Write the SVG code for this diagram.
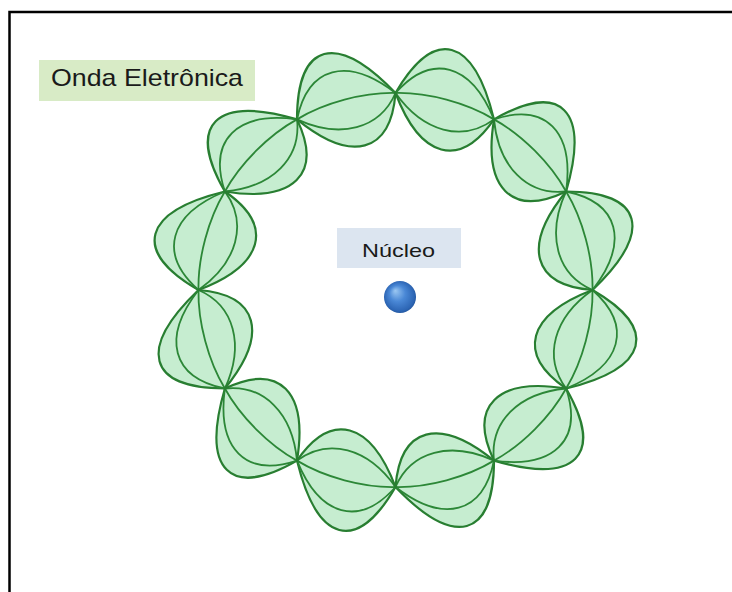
<svg xmlns="http://www.w3.org/2000/svg" width="732" height="592" viewBox="0 0 732 592">
  <style>
    .frame { fill: none; stroke: #000; stroke-width: 2.5; }
    .lobe { fill: #c6edd0; stroke: none; }
    .wave { fill: none; stroke: #2c8737; stroke-width: 1.8; stroke-linecap: round; }
    .wave.edge { stroke: #287e31; stroke-width: 2.2; }
    .label { font-family: "Liberation Sans", Arial, sans-serif; fill: #1a1a1a; }
  </style>
  <defs>
    <!-- one half-wavelength between two nodes, centred on the +x axis; nodes at ±15° on a circle of r=197 -->
    <g id="segment">
      <path class="lobe" d="M190.29,-50.99 C265.09,-30.83 265.09,9.97 190.29,50.99 C133.38,30.83 133.38,-9.97 190.29,-50.99 Z"/>
      <path class="wave edge" d="M190.29,-50.99 C265.09,-30.83 265.09,9.97 190.29,50.99"/>
      <path class="wave" d="M190.29,-50.99 C238.74,-26.66 238.74,14.14 190.29,50.99"/>
      <path class="wave" d="M190.29,-50.99 C199.24,-20.40 199.24,20.40 190.29,50.99"/>
      <path class="wave" d="M190.29,-50.99 C159.73,-14.14 159.73,26.66 190.29,50.99"/>
      <path class="wave edge" d="M190.29,-50.99 C133.38,-9.97 133.38,30.83 190.29,50.99"/>
    </g>
    <radialGradient id="ball" cx="0.5" cy="0.5" r="0.55" fx="0.35" fy="0.3">
      <stop offset="0" stop-color="#9cc8f2"/>
      <stop offset="0.45" stop-color="#4a88d6"/>
      <stop offset="0.85" stop-color="#2d66b5"/>
      <stop offset="1" stop-color="#1d4f94"/>
    </radialGradient>
  </defs>

  <rect width="732" height="592" fill="#fff"/>
  <path class="frame" d="M9.5,592 V12 H732"/>

  <!-- standing electron wave: 12 segments around the nucleus -->
  <g id="wave-ring" transform="translate(395.5,290)">
    <use href="#segment" transform="rotate(15)"/>
    <use href="#segment" transform="rotate(45)"/>
    <use href="#segment" transform="rotate(75)"/>
    <use href="#segment" transform="rotate(105)"/>
    <use href="#segment" transform="rotate(135)"/>
    <use href="#segment" transform="rotate(165)"/>
    <use href="#segment" transform="rotate(195)"/>
    <use href="#segment" transform="rotate(225)"/>
    <use href="#segment" transform="rotate(255)"/>
    <use href="#segment" transform="rotate(285)"/>
    <use href="#segment" transform="rotate(315)"/>
    <use href="#segment" transform="rotate(345)"/>
  </g>

  <g id="label-onda">
    <rect x="39" y="60" width="216" height="41" fill="#d8ebc6"/>
    <text class="label" x="51" y="86" font-size="24" textLength="192" lengthAdjust="spacingAndGlyphs">Onda Eletrônica</text>
  </g>

  <g id="label-nucleo">
    <rect x="337" y="228" width="124" height="40" fill="#dce5f0"/>
    <text class="label" x="362" y="256.5" font-size="19" textLength="73" lengthAdjust="spacingAndGlyphs">Núcleo</text>
  </g>

  <g id="nucleus">
    <circle cx="400" cy="297" r="16" fill="url(#ball)"/>
  </g>
</svg>
